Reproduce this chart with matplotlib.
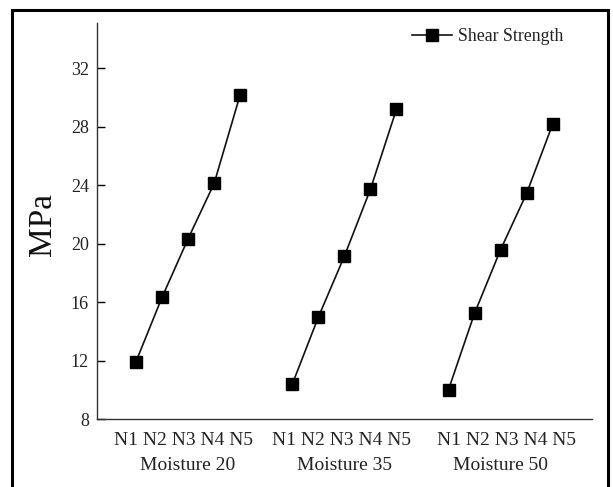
import matplotlib
matplotlib.use("Agg")
import matplotlib.pyplot as plt
import matplotlib.transforms as mtransforms
from matplotlib.patches import Rectangle

groups = ["Moisture 20", "Moisture 35", "Moisture 50"]
levels = ["N1", "N2", "N3", "N4", "N5"]
moisture20 = [11.95, 16.35, 20.35, 24.13, 30.2]
moisture35 = [10.4, 14.98, 19.15, 23.72, 29.2]
moisture50 = [10.03, 15.25, 19.6, 23.45, 28.18]
series = [moisture20, moisture35, moisture50]
y_ticks = [8, 12, 16, 20, 24, 28, 32]

plt.rcParams['font.family'] = ['Liberation Serif', 'DejaVu Serif']

fig = plt.figure(figsize=(6.13, 4.87), dpi=100)
ax = fig.add_axes([0.1582, 0.1390, 0.8071, 0.8138])
blend = mtransforms.blended_transform_factory(ax.transData, ax.transAxes)

label_shift = [-0.18, -0.11, 0.22]  # small horizontal offsets of the level label strings (layout)
for gi, vals in enumerate(series):
    xs = [gi * 6 + 1 + i for i in range(len(levels))]
    ax.plot(xs, vals, color='#111111', lw=1.2, marker='s', markersize=8,
            markerfacecolor='black', markeredgecolor='black',
            label='Shear Strength' if gi == 0 else None)
    cx = gi * 6 + 3
    ax.text(cx + label_shift[gi], -0.0649, " ".join(levels), transform=blend,
            ha='center', va='baseline', fontsize=14, color='#222222')
    ax.text(cx, -0.128, groups[gi], transform=blend,
            ha='center', va='baseline', fontsize=14, color='#222222')

ax.set_xlim(-0.5, 18.5)
ax.set_ylim(8, 35.1)
ax.set_yticks(y_ticks)
ax.set_xticks([])
ax.tick_params(axis='y', direction='in', length=6, width=1, pad=5.8, labelsize=13, labelcolor='#222222')
for s in ['top', 'right']:
    ax.spines[s].set_visible(False)
for s in ['left', 'bottom']:
    ax.spines[s].set_linewidth(1.0)
    ax.spines[s].set_color('#333333')

fig.text(43 / 613, 1 - 225 / 487, 'MPa', rotation=90, ha='center', va='center', fontsize=24, color='#111111')

leg = fig.legend(loc='center left', bbox_to_anchor=(411.7 / 613, 1 - 36.5 / 487), frameon=False,
                 borderpad=0, borderaxespad=0, handlelength=2.25, handletextpad=0.35, fontsize=12.8)
for t in leg.get_texts():
    t.set_color('#222222')

fig.patches.append(Rectangle((12 / 613, -0.05), (608 - 12) / 613, 1 - 10 / 487 + 0.05,
                             transform=fig.transFigure, fill=False, edgecolor='black', lw=2.2))

fig.savefig('out.png', dpi=100)
